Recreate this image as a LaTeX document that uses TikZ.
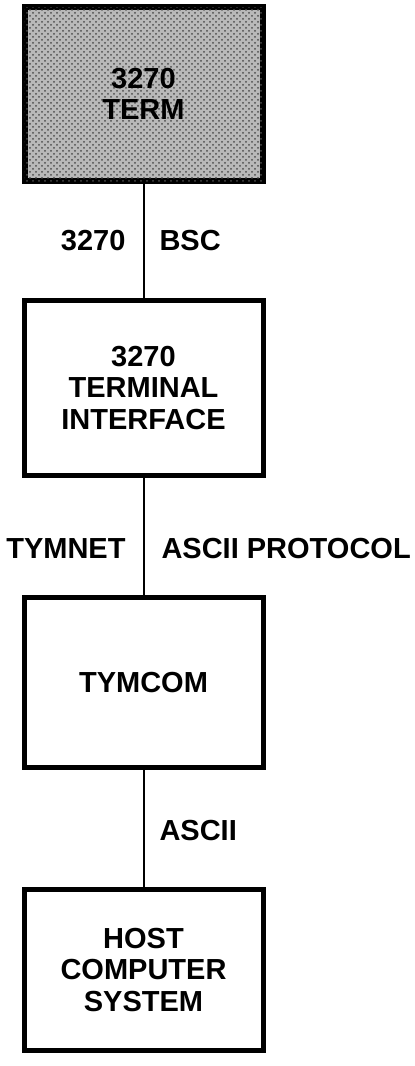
\documentclass[tikz,border=0pt]{standalone}
\usepackage{fontspec}
\setmainfont{Liberation Sans}
\usepackage{tikz}
\usetikzlibrary{positioning,patterns}

\tikzset{
  unit/.style={draw, line width=2.5pt, align=center, minimum width=119.5pt,
    inner sep=0pt, font=\bfseries\fontsize{14.5}{15.6}\selectfont},
  link/.style={line width=1pt},
  lbl/.style={inner sep=0pt, font=\bfseries\fontsize{14.5}{15.6}\selectfont}
}

\begin{document}
\begin{tikzpicture}[x=0.5pt,y=-0.5pt]
    \useasboundingbox (0,0) rectangle (415,1066);
    % Terminal
    \node[unit, line width=3pt, minimum width=119pt, minimum height=87pt, fill=gray!55,
      postaction={pattern=crosshatch dots, pattern color=black!70}]
      (term) at (143.5,94) {3270\\TERM};
    % Interface
    \node[unit, minimum height=87.5pt, below=57pt of term] (tif) {3270\\TERMINAL\\INTERFACE};
    % Tymcom
    \node[unit, minimum height=85pt, below=58.5pt of tif] (tymcom) {TYMCOM};
    % Host
    \node[unit, minimum height=80.5pt, below=58.5pt of tymcom] (host) {HOST\\COMPUTER\\SYSTEM};
    % Links
    \draw[link] (term) -- node[lbl, left=8.5pt] {3270} node[lbl, right=7.5pt] {BSC} (tif);
    \draw[link] (tif) -- node[lbl, pos=0.6, left=8.5pt] {TYMNET}
      node[lbl, pos=0.6, right=8.5pt] {ASCII PROTOCOL} (tymcom);
    \draw[link] (tymcom) -- node[lbl, pos=0.52, right=7.5pt] {ASCII} (host);
\end{tikzpicture}
\end{document}
